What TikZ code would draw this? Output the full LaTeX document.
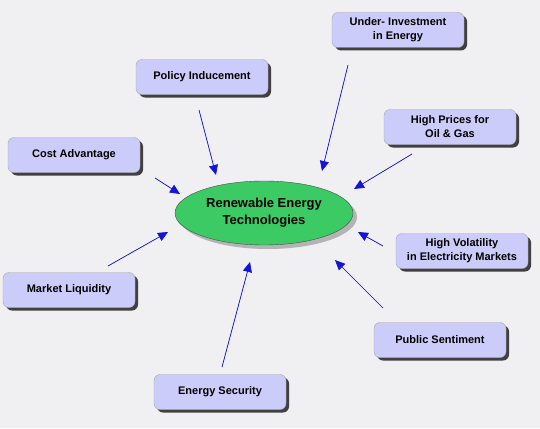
\documentclass[tikz,border=0pt]{standalone}
\usepackage{fontspec}
\setmainfont{Liberation Sans}
\usepackage{xcolor}
\usepackage{tikz}
\usetikzlibrary{shapes.geometric, arrows.meta, shadows}

\definecolor{bgcol}{RGB}{240,240,242}
\definecolor{boxcol}{RGB}{204,204,250}
\definecolor{eqcol}{RGB}{60,202,100}
\definecolor{arrcol}{RGB}{20,20,215}

\begin{document}
\begin{tikzpicture}[
    x=1pt, y=-1pt,
    factor/.style={rectangle, draw=gray!70, fill=boxcol, minimum width=132pt, minimum height=35pt, align=center, rounded corners=6pt, font=\fontsize{11}{14}\selectfont\bfseries, drop shadow={shadow xshift=3pt, shadow yshift=-3pt, fill=black!75, opacity=1}},
    hub/.style={ellipse, draw=gray!60!black, fill=eqcol, minimum width=178pt, minimum height=64pt, inner sep=0pt, align=center, font=\fontsize{13}{17}\selectfont\bfseries, drop shadow={shadow xshift=4pt, shadow yshift=-4pt, fill=black!45, opacity=0.6}},
    arrow/.style={-{Triangle[length=10pt, width=9pt]}, draw=arrcol, fill=arrcol, line width=0.7pt}
]

% Background
\fill[bgcol] (0,0) rectangle (540,428);
\useasboundingbox (0,0) rectangle (540,428);

% Centre
\node[hub] (ret) at (264,213) {Renewable Energy\\Technologies};

% Drivers
\node[factor] (underinv) at (398,30) {Under- Investment\\in Energy};
\node[factor] (policy) at (202,77) {Policy Inducement};
\node[factor] (prices) at (450,127) {High Prices for\\Oil \& Gas};
\node[factor] (cost) at (74,155) {Cost Advantage};
\node[factor] (volatility) at (462,251) {High Volatility\\in Electricity Markets};
\node[factor] (liquidity) at (69,290) {Market Liquidity};
\node[factor] (sentiment) at (440,340) {Public Sentiment};
\node[factor] (security) at (220,392) {Energy Security};

% Arrow ends
\coordinate (underinv-s) at (348,65);   \coordinate (underinv-e) at (322,171);
\coordinate (policy-s) at (199,110);    \coordinate (policy-e) at (216,175);
\coordinate (prices-s) at (412,154);    \coordinate (prices-e) at (354,189);
\coordinate (cost-s) at (155,178);      \coordinate (cost-e) at (180,194);
\coordinate (volatility-s) at (383,246); \coordinate (volatility-e) at (358,232);
\coordinate (liquidity-s) at (108,266); \coordinate (liquidity-e) at (168,232);
\coordinate (sentiment-s) at (383,308); \coordinate (sentiment-e) at (335,260);
\coordinate (security-s) at (222,367);  \coordinate (security-e) at (250,262);

% Arrows
\foreach \f in {underinv, policy, prices, cost, volatility, liquidity, sentiment, security}
  \draw[arrow] (\f-s) -- (\f-e);

\end{tikzpicture}
\end{document}
